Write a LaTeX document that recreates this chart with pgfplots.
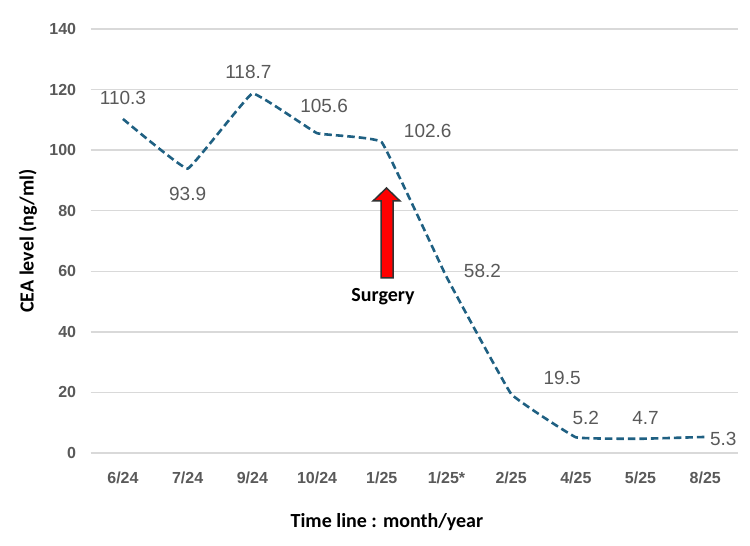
\documentclass[border=0pt]{standalone}
\usepackage{pgfplots}
\pgfplotsset{compat=1.18}
\usepackage{pgfplotstable}
\usepackage{fontspec}
\setmainfont{Liberation Sans}
\newfontfamily\titlefont{Carlito}
\definecolor{linecol}{RGB}{31,96,130}
\definecolor{txtgray}{RGB}{89,89,89}
\definecolor{gridgray}{RGB}{217,217,217}
\definecolor{arrred}{RGB}{255,0,0}
\definecolor{arredge}{RGB}{50,50,50}

\pgfplotstableread{
x y dx dy lab
0 110.3 0 21 110.3
1 93.9 0 -25 93.9
2 118.7 -4 22 118.7
3 105.6 7 27 105.6
4 102.6 46 11 102.6
5 58.2 36 6 58.2
6 19.5 51 15.5 19.5
7 5.2 10 19 5.2
8 4.7 5 21 4.7
9 5.3 18 -2 5.3
}\cea

\begin{document}
\begin{tikzpicture}
\path[use as bounding box] (0,0) rectangle (750bp,546bp);
\begin{axis}[
  at={(90.6bp,93bp)}, anchor=south west,
  scale only axis, width=647bp, height=424bp,
  xmin=-0.5, xmax=9.5, ymin=0, ymax=140,
  xtick={0,...,9},
  xticklabels={6/24,7/24,9/24,10/24,1/25,1/25*,2/25,4/25,5/25,8/25},
  ytick={0,20,...,140},
  ymajorgrids, grid style={gridgray, line width=1.3bp},
  axis line style={draw=none},
  major tick style={draw=none},
  /pgf/number format/assume math mode=true,
  ticklabel style={font=\fontsize{16bp}{19bp}\selectfont\bfseries, text=txtgray},
  yticklabel style={xshift=-11bp},
  xticklabel style={yshift=-15bp},
  xlabel={Time line : month/year},
  ylabel={CEA level (ng/ml)},
  xlabel style={at={(axis description cs:0.458,-0.163)}, anchor=center, font=\titlefont\fontsize{20bp}{23bp}\selectfont\bfseries},
  ylabel style={at={(axis description cs:-0.097,0.5)}, anchor=center, rotate=0, font=\titlefont\fontsize{20bp}{23bp}\selectfont\bfseries},
  clip=false,
]
\addplot[linecol, line width=2.6bp, dash pattern=on 7.5bp off 4bp, smooth, tension=0.13,
  nodes near coords, point meta=explicit symbolic,
  visualization depends on={\thisrow{dx} \as \dx},
  visualization depends on={\thisrow{dy} \as \dy},
  nodes near coords style={anchor=center, xshift=\dx bp, yshift=\dy bp, text=txtgray, font=\fontsize{19bp}{22bp}\selectfont, solid}]
  table[x=x, y=y, meta=lab] {\cea};
\end{axis}
\draw[fill=arrred, draw=arredge, line width=1.5bp, line join=miter]
  (381bp,268bp) -- (381bp,345bp) -- (373bp,345bp) -- (386.5bp,358bp) -- (400bp,345bp) -- (393bp,345bp) -- (393bp,268bp) -- cycle;
\node[font=\titlefont\fontsize{20bp}{23bp}\selectfont\bfseries] at (383bp,249bp) {Surgery};
\end{tikzpicture}
\end{document}
